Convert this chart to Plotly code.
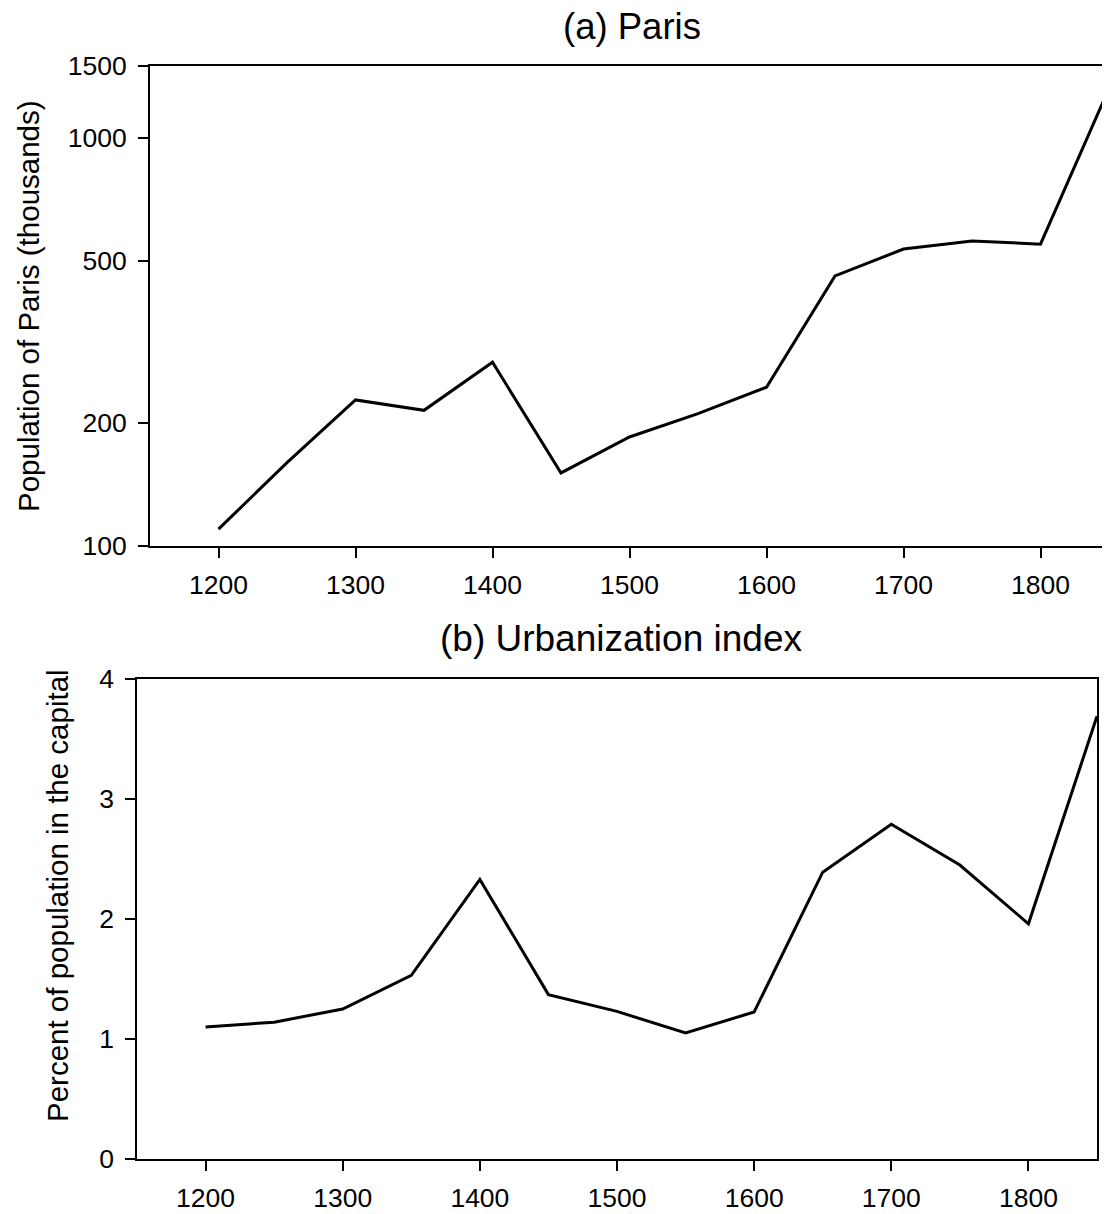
import numpy as np
import plotly.graph_objects as go

years = [1200, 1250, 1300, 1350, 1400, 1450, 1500, 1550, 1600, 1650, 1700, 1750, 1800, 1850]
paris_pop = [110, 160, 228, 215, 282, 151, 185, 211, 245, 459, 534, 559, 549, 1323]
urban_pct = [1.10, 1.14, 1.25, 1.53, 2.33, 1.37, 1.23, 1.05, 1.225, 2.39, 2.79, 2.45, 1.96, 3.69]

pop_ticks = [100, 200, 500, 1000, 1500]
pct_ticks = [0, 1, 2, 3, 4]
year_ticks = [1200, 1300, 1400, 1500, 1600, 1700, 1800]

W, H = 1110, 1214
OFF = 8  # page body margin
FONT = "Liberation Sans, Arial, sans-serif"


def px_x(p):
    return (p - OFF) / W


def px_y(p):
    return 1 - (p - OFF) / H


fig = go.Figure()
fig.add_trace(go.Scatter(x=years, y=paris_pop, mode="lines", xaxis="x", yaxis="y",
                         line=dict(color="black", width=3), showlegend=False, cliponaxis=False))
fig.add_trace(go.Scatter(x=years, y=urban_pct, mode="lines", xaxis="x2", yaxis="y2",
                         line=dict(color="black", width=3), showlegend=False, cliponaxis=False))

ax_common = dict(showgrid=False, zeroline=False, showline=True, linecolor="black",
                 mirror=True, ticks="outside", ticklen=10, tickwidth=1.5, tickcolor="black",
                 automargin=False,
                 tickfont=dict(family=FONT, size=26.5, color="black"))

fig.update_layout(
    template="none",
    width=W, height=H, margin=dict(l=0, r=0, t=0, b=0, pad=0),
    paper_bgcolor="white", plot_bgcolor="white", showlegend=False,
    font=dict(family=FONT, color="black"),
    xaxis=dict(domain=[px_x(150), px_x(1109)], anchor="y", range=[1150, 1850],
               tickvals=year_ticks, linewidth=2, ticklabelstandoff=4, **ax_common),
    yaxis=dict(domain=[px_y(546), px_y(66)], anchor="x", type="log",
               range=[2, np.log10(1500)], tickvals=pop_ticks,
               ticktext=[str(v) for v in pop_ticks], linewidth=2, ticklabelstandoff=6, **ax_common),
    xaxis2=dict(domain=[px_x(137), px_x(1097)], anchor="y2", range=[1150, 1850],
                tickvals=year_ticks, linewidth=1.6, ticklabelstandoff=4, **ax_common),
    yaxis2=dict(domain=[px_y(1159), px_y(679)], anchor="x2", range=[0, 4],
                tickvals=pct_ticks, linewidth=1.6, ticklabelstandoff=6, **ax_common),
)

ann = [
    dict(text="(a) Paris", x=632, y=27, size=36.5, angle=0),
    dict(text="(b) Urbanization index", x=621, y=638, size=37, angle=0),
    dict(text="Population of Paris (thousands)", x=28, y=306, size=29.5, angle=-90),
    dict(text="Percent of population in the capital", x=57, y=896, size=29.5, angle=-90),
]
for a in ann:
    fig.add_annotation(text=a["text"], x=px_x(a["x"]), y=px_y(a["y"]), xref="paper", yref="paper",
                       xanchor="center", yanchor="middle", showarrow=False,
                       textangle=a["angle"], font=dict(family=FONT, size=a["size"], color="black"))

fig.write_html("out.html")
